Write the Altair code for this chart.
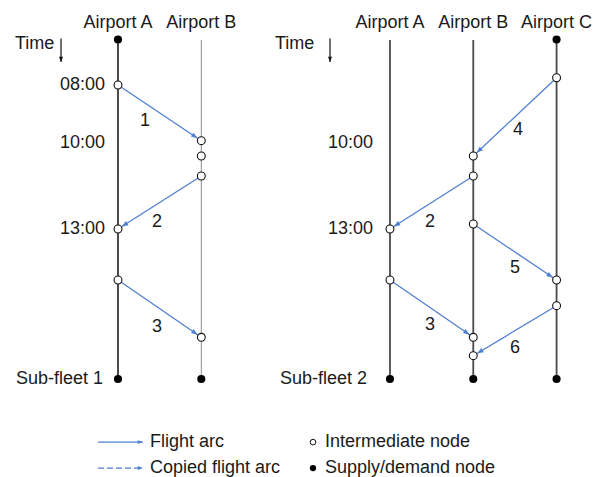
import math
import altair as alt
import pandas as pd

# ---------------- data (columns = airports, y = hour of day) ----------------
PANEL_OFFSET = [0.0, 3.265]
AIRPORTS = [["Airport A", "Airport B"], ["Airport A", "Airport B", "Airport C"]]
SUBFLEET = ["Sub-fleet 1", "Sub-fleet 2"]

LINE_START = [[6.42, 6.4375], [6.4375, 6.4375, 6.42]]
LINE_END = 18.208
LINE_COLOR = [["#4a4a4a", "#8a8a8a"], ["#4a4a4a", "#4a4a4a", "#4a4a4a"]]
LINE_WIDTH = [[2.0, 1.0], [1.8, 1.8, 1.8]]
TOP_SUPPLY = [[True, False], [False, False, True]]

TIME_TICKS = [["08:00", "10:00", "13:00"], ["10:00", "13:00"]]
TIME_HOURS = [[8.0, 10.0, 13.0], [10.0, 13.0]]
TIME_LABEL_X = [-0.156, -0.204]
TIME_TITLE_X = [-1.2365, -1.38]
TIME_ARROW_X = [-0.684, -0.72]
TIME_ARROW_H = [6.385, 7.20]
TITLE_H = 5.85
SUBFLEET_X = [-0.18, -0.276]

# intermediate nodes
NODE_PANEL = [0, 0, 0, 0, 0, 0, 0, 1, 1, 1, 1, 1, 1, 1, 1, 1, 1]
NODE_AIRPORT = [0, 0, 0, 1, 1, 1, 1, 0, 0, 1, 1, 1, 1, 1, 2, 2, 2]
NODE_HOUR = [8.0, 13.0, 14.771, 9.934, 10.465, 11.160, 16.760,
             13.0, 14.771, 10.465, 11.160, 12.826, 16.760, 17.399,
             7.747, 14.771, 15.663]

# flight arcs
ARC_PANEL = [0, 0, 0, 1, 1, 1, 1, 1]
ARC_ID = ["1", "2", "3", "4", "2", "5", "3", "6"]
ARC_FROM = [0, 1, 0, 2, 1, 1, 0, 2]
ARC_TO = [1, 0, 1, 1, 0, 2, 1, 1]
ARC_DEP = [8.0, 11.160, 14.771, 7.747, 11.160, 12.826, 14.771, 15.663]
ARC_ARR = [9.934, 13.0, 16.760, 10.465, 13.0, 14.771, 16.760, 17.399]
ARC_LABEL_X = [0.324, 0.468, 0.468, 1.537, 0.48, 1.501, 0.48, 1.501]
ARC_LABEL_H = [9.25, 12.76, 16.40, 9.5625, 12.76, 14.354, 16.333, 17.132]

# legend
LEGEND_ARC = ["Flight arc", "Copied flight arc"]
LEGEND_NODE = ["Intermediate node", "Supply/demand node"]
LEGEND_H = [20.4, 21.3]
LEGEND_LINE_X = [-0.24, 0.30]
LEGEND_TEXT_X = [0.384, 2.485]
LEGEND_DOT_X = 2.341

# ---------------- scales ----------------
W, H = 588, 469
PXU = 83.3
PXH = 28.8
XDOM = [-1.3205, -1.3205 + W / PXU]
YDOM = [5.3264, 5.3264 + H / PXH]
BLUE = "#4f7fd0"
FONT = "Liberation Sans"
TXT = "#1a1a1a"

xs = alt.Scale(domain=XDOM, nice=False, zero=False)
ys = alt.Scale(domain=YDOM, nice=False, zero=False, reverse=True)
X = lambda f: alt.X(f, type="quantitative", scale=xs, axis=None)
Y = lambda f: alt.Y(f, type="quantitative", scale=ys, axis=None)

# vertical airport lines
rows = []
for p, aps in enumerate(AIRPORTS):
    for i, name in enumerate(aps):
        rows.append(dict(x=PANEL_OFFSET[p] + i, y1=LINE_START[p][i], y2=LINE_END,
                         c=LINE_COLOR[p][i], w=LINE_WIDTH[p][i], name=name))
lines_df = pd.DataFrame(rows)

supply = []
for p, aps in enumerate(AIRPORTS):
    for i, _ in enumerate(aps):
        supply.append(dict(x=PANEL_OFFSET[p] + i, y=LINE_END))
        if TOP_SUPPLY[p][i]:
            supply.append(dict(x=PANEL_OFFSET[p] + i, y=LINE_START[p][i]))
supply_df = pd.DataFrame(supply)

nodes_df = pd.DataFrame(dict(
    x=[PANEL_OFFSET[p] + a for p, a in zip(NODE_PANEL, NODE_AIRPORT)],
    y=NODE_HOUR))

arcs = []
R = 4.6
for p, lab, f, t, d, a, lx, lh in zip(ARC_PANEL, ARC_ID, ARC_FROM, ARC_TO, ARC_DEP, ARC_ARR,
                                      ARC_LABEL_X, ARC_LABEL_H):
    x1, x2 = PANEL_OFFSET[p] + f, PANEL_OFFSET[p] + t
    dx, dy = (x2 - x1) * PXU, (a - d) * PXH
    L = math.hypot(dx, dy)
    ang = math.degrees(math.atan2(dy, dx)) % 360
    arcs.append(dict(x1=x1, y1=d, x2=x2, y2=a,
                     tx=x2 - R * dx / L / PXU, ty=a - R * dy / L / PXH,
                     ang=ang, label=lab, lx=PANEL_OFFSET[p] + lx, ly=lh))
arcs_df = pd.DataFrame(arcs)

titles_df = lines_df[["x", "name"]].assign(y=TITLE_H)
ticks_df = pd.DataFrame([dict(x=PANEL_OFFSET[p] + TIME_LABEL_X[p], y=h, t=t)
                         for p in range(2) for t, h in zip(TIME_TICKS[p], TIME_HOURS[p])])
sub_df = pd.DataFrame([dict(x=PANEL_OFFSET[p] + SUBFLEET_X[p], y=LINE_END, t=SUBFLEET[p])
                       for p in range(2)])
timet_df = pd.DataFrame([dict(x=PANEL_OFFSET[p] + TIME_TITLE_X[p], y=6.576, t="Time")
                         for p in range(2)])
tarrow_df = pd.DataFrame([dict(x=PANEL_OFFSET[p] + TIME_ARROW_X[p], y1=TIME_ARROW_H[0],
                               y2=TIME_ARROW_H[1]) for p in range(2)])

leg_lines = pd.DataFrame(dict(x1=[LEGEND_LINE_X[0]] * 2, x2=[LEGEND_LINE_X[1]] * 2,
                              y=LEGEND_H, dash=["solid", "dashed"]))
leg_text = pd.DataFrame(dict(x=[LEGEND_TEXT_X[0]] * 2 + [LEGEND_TEXT_X[1]] * 2,
                             y=LEGEND_H + LEGEND_H, t=LEGEND_ARC + LEGEND_NODE))

ARROW = "M0,0L-1,-0.38L-1,0.38Z"

base = alt.Chart(lines_df)
vlines = base.mark_rule().encode(
    x=X("x"), y=Y("y1"), y2="y2",
    color=alt.Color("c:N", scale=None), strokeWidth=alt.StrokeWidth("w:Q", scale=None))

arc_lines = alt.Chart(arcs_df).mark_rule(color=BLUE, strokeWidth=1.3).encode(
    x=X("x1"), y=Y("y1"), x2="x2", y2="y2")
arc_heads = alt.Chart(arcs_df).mark_point(shape=ARROW, filled=True, color=BLUE,
                                          size=160, opacity=1).encode(
    x=X("tx"), y=Y("ty"), angle=alt.Angle("ang:Q", scale=None))
arc_labels = alt.Chart(arcs_df).mark_text(font=FONT, fontSize=18, color=TXT,
                                          baseline="middle", align="center").encode(
    x=X("lx"), y=Y("ly"), text="label:N")

open_nodes = alt.Chart(nodes_df).mark_point(shape="circle", filled=False, fill="white",
                                            stroke="#111", strokeWidth=1.1, size=62,
                                            opacity=1).encode(x=X("x"), y=Y("y"))
supply_nodes = alt.Chart(supply_df).mark_point(shape="circle", filled=True, color="#000",
                                               size=66, opacity=1).encode(x=X("x"), y=Y("y"))

titles = alt.Chart(titles_df).mark_text(font=FONT, fontSize=18, color=TXT,
                                        baseline="middle", align="center").encode(
    x=X("x"), y=Y("y"), text="name:N")
ticks = alt.Chart(ticks_df).mark_text(font=FONT, fontSize=18, color=TXT,
                                      baseline="middle", align="right").encode(
    x=X("x"), y=Y("y"), text="t:N")
subs = alt.Chart(sub_df).mark_text(font=FONT, fontSize=18, color=TXT,
                                   baseline="middle", align="right").encode(
    x=X("x"), y=Y("y"), text="t:N")
timet = alt.Chart(timet_df).mark_text(font=FONT, fontSize=18, color=TXT,
                                      baseline="middle", align="left").encode(
    x=X("x"), y=Y("y"), text="t:N")
tarrow = alt.Chart(tarrow_df).mark_rule(color="#111", strokeWidth=1.2).encode(
    x=X("x"), y=Y("y1"), y2="y2")
tarrow_head = alt.Chart(tarrow_df).mark_point(shape=ARROW, filled=True, color="#111",
                                              size=110, opacity=1, angle=90).encode(
    x=X("x"), y=Y("y2"))

leg_solid = alt.Chart(leg_lines).mark_rule(color=BLUE, strokeWidth=1.3).encode(
    x=X("x1"), x2="x2", y=Y("y"),
    strokeDash=alt.StrokeDash("dash:N", scale=alt.Scale(domain=["solid", "dashed"],
                                                        range=[[1, 0], [6, 3]]), legend=None))
leg_heads = alt.Chart(leg_lines).mark_point(shape=ARROW, filled=True, color=BLUE,
                                            size=110, opacity=1).encode(
    x=X("x2"), y=Y("y"))
leg_open = alt.Chart(pd.DataFrame(dict(x=[LEGEND_DOT_X], y=[LEGEND_H[0]]))).mark_point(
    shape="circle", filled=False, fill="white", stroke="#111", strokeWidth=1, size=32,
    opacity=1).encode(x=X("x"), y=Y("y"))
leg_fill = alt.Chart(pd.DataFrame(dict(x=[LEGEND_DOT_X], y=[LEGEND_H[1]]))).mark_point(
    shape="circle", filled=True, color="#000", size=40, opacity=1).encode(x=X("x"), y=Y("y"))
leg_txt = alt.Chart(leg_text).mark_text(font=FONT, fontSize=18, color=TXT,
                                        baseline="middle", align="left").encode(
    x=X("x"), y=Y("y"), text="t:N")

chart = alt.layer(
    vlines, arc_lines, arc_heads, open_nodes, supply_nodes, arc_labels,
    titles, ticks, subs, timet, tarrow, tarrow_head,
    leg_solid, leg_heads, leg_open, leg_fill, leg_txt,
).properties(
    width=W, height=H, padding=0, autosize=alt.AutoSizeParams(type="none"),
    background="white",
).configure_view(stroke=None)

chart.save("out.html", embed_options={"renderer": "svg", "actions": False})
